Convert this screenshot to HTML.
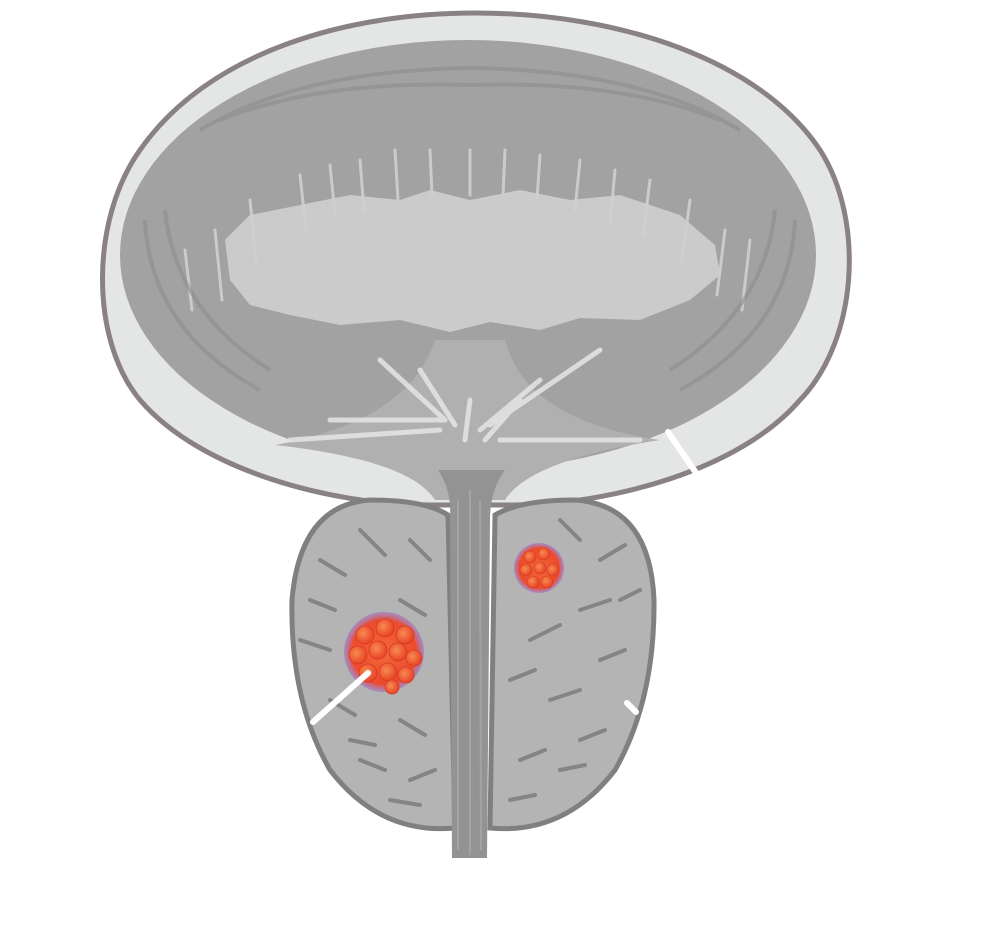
<!DOCTYPE html>
<html><head><meta charset="utf-8"><style>html,body{margin:0;padding:0;background:#fff;width:983px;height:926px;overflow:hidden}</style></head>
<body>
<svg width="983" height="926" viewBox="0 0 983 926" xmlns="http://www.w3.org/2000/svg">
<defs>
<radialGradient id="t" cx="50%" cy="50%" r="50%">
<stop offset="0" stop-color="#f26a3a"/><stop offset="0.8" stop-color="#ee4a2c"/><stop offset="1" stop-color="#a070c8" stop-opacity="0.6"/>
</radialGradient>
<radialGradient id="c" cx="40%" cy="40%" r="60%"><stop offset="0" stop-color="#f88a50"/><stop offset="1" stop-color="#e84428"/></radialGradient>
</defs>
<!-- bladder outer -->
<path d="M430 505 C330 505 200 470 140 400 C90 340 90 220 140 150 C210 50 350 13 475 13 C620 13 760 60 820 150 C865 220 858 340 800 400 C740 470 610 505 512 505 Z" fill="#e4e5e5" stroke="#8a8282" stroke-width="5"/>
<ellipse cx="468" cy="255" rx="348" ry="215" fill="#a2a2a2"/>
<!-- jagged light centre -->
<path d="M230 280 L225 240 L250 215 L300 205 L350 195 L400 200 L430 190 L470 200 L520 190 L570 200 L620 195 L680 215 L715 245 L720 275 L690 300 L640 320 L580 318 L540 330 L490 322 L450 332 L400 320 L340 325 L290 315 L250 305 Z" fill="#cbcbcb"/>
<g stroke="#d0d0d0" stroke-width="3" opacity="0.9" stroke-linecap="round">
<line x1="185" y1="250" x2="192" y2="310"/><line x1="215" y1="230" x2="222" y2="300"/><line x1="250" y1="200" x2="256" y2="260"/>
<line x1="300" y1="175" x2="306" y2="230"/><line x1="330" y1="165" x2="335" y2="215"/><line x1="360" y1="160" x2="364" y2="210"/>
<line x1="395" y1="150" x2="398" y2="200"/><line x1="430" y1="150" x2="432" y2="195"/><line x1="470" y1="150" x2="470" y2="195"/>
<line x1="505" y1="150" x2="503" y2="195"/><line x1="540" y1="155" x2="537" y2="200"/><line x1="580" y1="160" x2="575" y2="210"/>
<line x1="615" y1="170" x2="610" y2="225"/><line x1="650" y1="180" x2="643" y2="235"/><line x1="690" y1="200" x2="682" y2="260"/>
<line x1="725" y1="230" x2="717" y2="295"/><line x1="750" y1="240" x2="742" y2="310"/>
</g>
<g stroke="#8e8e8e" stroke-width="4" opacity="0.6" fill="none">
<path d="M145 220 Q150 330 260 390"/><path d="M165 210 Q175 310 270 370"/>
<path d="M795 220 Q790 330 680 390"/><path d="M775 210 Q765 310 670 370"/>
<path d="M200 130 Q300 70 470 68 Q640 70 740 130"/>
<path d="M220 120 Q320 80 470 85 Q620 80 720 120"/>
</g>
<!-- funnel / neck -->
<path d="M275 445 Q410 420 435 340 L505 340 Q525 420 660 440 Q530 460 505 500 L435 500 Q410 460 275 445Z" fill="#b0b0b0"/>
<g stroke="#e2e2e2" stroke-width="5" stroke-linecap="round" opacity="0.9">
<line x1="290" y1="440" x2="440" y2="430"/><line x1="330" y1="420" x2="445" y2="420"/><line x1="380" y1="360" x2="445" y2="420"/>
<line x1="420" y1="370" x2="455" y2="425"/><line x1="470" y1="400" x2="465" y2="440"/><line x1="540" y1="380" x2="480" y2="430"/>
<line x1="600" y1="350" x2="490" y2="425"/><line x1="520" y1="400" x2="485" y2="440"/><line x1="640" y1="440" x2="500" y2="440"/>
</g>
<!-- prostate lobes -->
<path d="M448 515 Q425 500 370 500 Q300 505 292 600 Q290 700 330 770 Q380 835 455 828 Z" fill="#b4b4b4" stroke="#808080" stroke-width="5"/>
<path d="M495 515 Q520 500 575 500 Q650 505 654 600 Q655 700 615 770 Q565 835 490 828 Z" fill="#b4b4b4" stroke="#808080" stroke-width="5"/>
<g stroke="#7a7a7a" stroke-width="4" stroke-linecap="round" opacity="0.8">
<line x1="320" y1="560" x2="345" y2="575"/><line x1="360" y1="530" x2="385" y2="555"/><line x1="310" y1="600" x2="335" y2="610"/>
<line x1="330" y1="700" x2="355" y2="715"/><line x1="360" y1="760" x2="385" y2="770"/><line x1="400" y1="720" x2="425" y2="735"/>
<line x1="410" y1="540" x2="430" y2="560"/><line x1="400" y1="600" x2="425" y2="615"/><line x1="390" y1="800" x2="420" y2="805"/>
<line x1="300" y1="640" x2="330" y2="650"/><line x1="350" y1="740" x2="375" y2="745"/><line x1="410" y1="780" x2="435" y2="770"/>
<line x1="560" y1="520" x2="580" y2="540"/><line x1="600" y1="560" x2="625" y2="545"/><line x1="580" y1="610" x2="610" y2="600"/>
<line x1="530" y1="640" x2="560" y2="625"/><line x1="600" y1="660" x2="625" y2="650"/><line x1="550" y1="700" x2="580" y2="690"/>
<line x1="520" y1="760" x2="545" y2="750"/><line x1="580" y1="740" x2="605" y2="730"/><line x1="510" y1="800" x2="535" y2="795"/>
<line x1="510" y1="680" x2="535" y2="670"/><line x1="560" y1="770" x2="585" y2="765"/><line x1="620" y1="600" x2="640" y2="590"/>
</g>
<!-- urethra -->
<path d="M438 470 Q452 490 450 520 L452 858 L487 858 L490 520 Q490 490 505 470 Z" fill="#939393"/>
<g stroke="#a8a8a8" stroke-width="2" opacity="0.8">
<line x1="458" y1="500" x2="458" y2="850"/><line x1="470" y1="490" x2="470" y2="855"/><line x1="480" y1="500" x2="481" y2="850"/>
</g>
<!-- tumors -->
<circle cx="384" cy="652" r="40" fill="url(#t)"/>
<g fill="url(#c)" stroke="#d63a20" stroke-width="0.8">
<circle cx="365" cy="635" r="9"/><circle cx="385" cy="628" r="9"/><circle cx="405" cy="635" r="9"/>
<circle cx="358" cy="655" r="9"/><circle cx="378" cy="650" r="9"/><circle cx="398" cy="652" r="9"/><circle cx="414" cy="658" r="8"/>
<circle cx="368" cy="673" r="9"/><circle cx="388" cy="672" r="9"/><circle cx="406" cy="675" r="8"/><circle cx="392" cy="687" r="7"/>
</g>
<circle cx="539" cy="568" r="25" fill="url(#t)"/>
<g fill="url(#c)" stroke="#d63a20" stroke-width="0.6">
<circle cx="530" cy="557" r="6"/><circle cx="544" cy="554" r="6"/><circle cx="526" cy="570" r="6"/><circle cx="540" cy="568" r="6"/>
<circle cx="553" cy="570" r="6"/><circle cx="533" cy="582" r="6"/><circle cx="547" cy="582" r="6"/>
</g>
<!-- white lines -->
<g stroke="#fff" stroke-width="6" stroke-linecap="round">
<line x1="668" y1="432" x2="703" y2="483"/>
<line x1="368" y1="673" x2="313" y2="722"/>
<line x1="627" y1="703" x2="636" y2="712"/>
</g>
</svg>
</body></html>
